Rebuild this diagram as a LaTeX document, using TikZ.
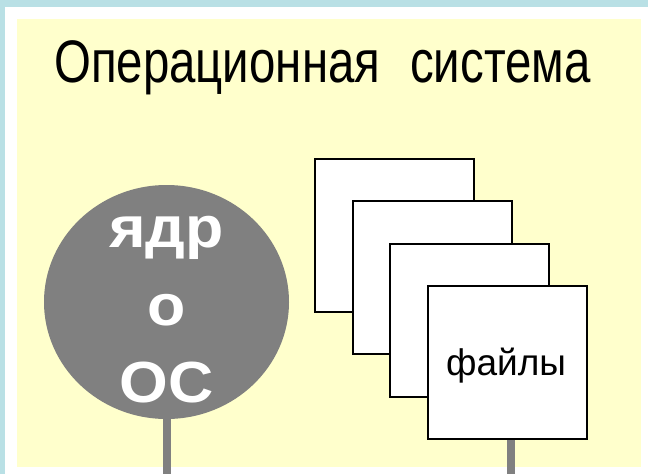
\documentclass[tikz,border=0pt]{standalone}
\usepackage{fontspec}
\setmainfont{Liberation Sans}
\newfontfamily\titlefont[FakeStretch=0.79]{Liberation Sans}
\newfontfamily\kernelfont[FakeStretch=1.08]{Liberation Sans}
\usetikzlibrary{shapes.geometric}
\definecolor{frameblue}{RGB}{185,224,229}
\definecolor{paleyellow}{RGB}{255,255,204}
\definecolor{kernelgray}{RGB}{128,128,128}
\tikzset{
  filebox/.style={draw=black, line width=1.5pt, fill=white, minimum width=159pt, minimum height=153pt, inner sep=0pt, anchor=north west},
  stem/.style={draw=kernelgray, line width=8pt},
}
\begin{document}
\begin{tikzpicture}[x=1pt,y=-1pt]
\useasboundingbox (0,0) rectangle (648,474);
\fill[white] (0,0) rectangle (648,474);
\fill[frameblue] (0,0) rectangle (648,7);
\fill[frameblue] (0,0) rectangle (5,474);
\fill[paleyellow] (17,19) rectangle (641,467);
\node[anchor=base west, inner sep=0pt, font=\titlefont\fontsize{60}{72}\selectfont] (title) at (54,82) {Операционная\hspace{30pt}система};
% kernel
\node[ellipse, fill=kernelgray, minimum width=245pt, minimum height=234pt, inner sep=0pt] (kernel) at (166.5,302) {};
\node[align=center, inner sep=0pt, text=white, font=\kernelfont\fontsize{58}{77.5}\selectfont\bfseries] (kerneltext) at (166.5,309.8) {ядр\\о\\ОС};
\coordinate (kernelfoot) at (166.5,474);
\draw[stem] (kernel.south) -- (kernelfoot);
% files
\node[filebox] (box1) at (314,158) {};
\node[filebox] (box2) at (352,200) {};
\node[filebox] (box3) at (389,243) {};
\node[filebox] (box4) at (427,285) {};
\node[anchor=base, inner sep=0pt, font=\fontsize{37}{44}\selectfont] (filestext) at (506,375) {файлы};
\coordinate (filesfoot) at (511,474);
\draw[stem] (box4.south -| filesfoot) ++(0,0.75) -- (filesfoot);
\end{tikzpicture}
\end{document}
